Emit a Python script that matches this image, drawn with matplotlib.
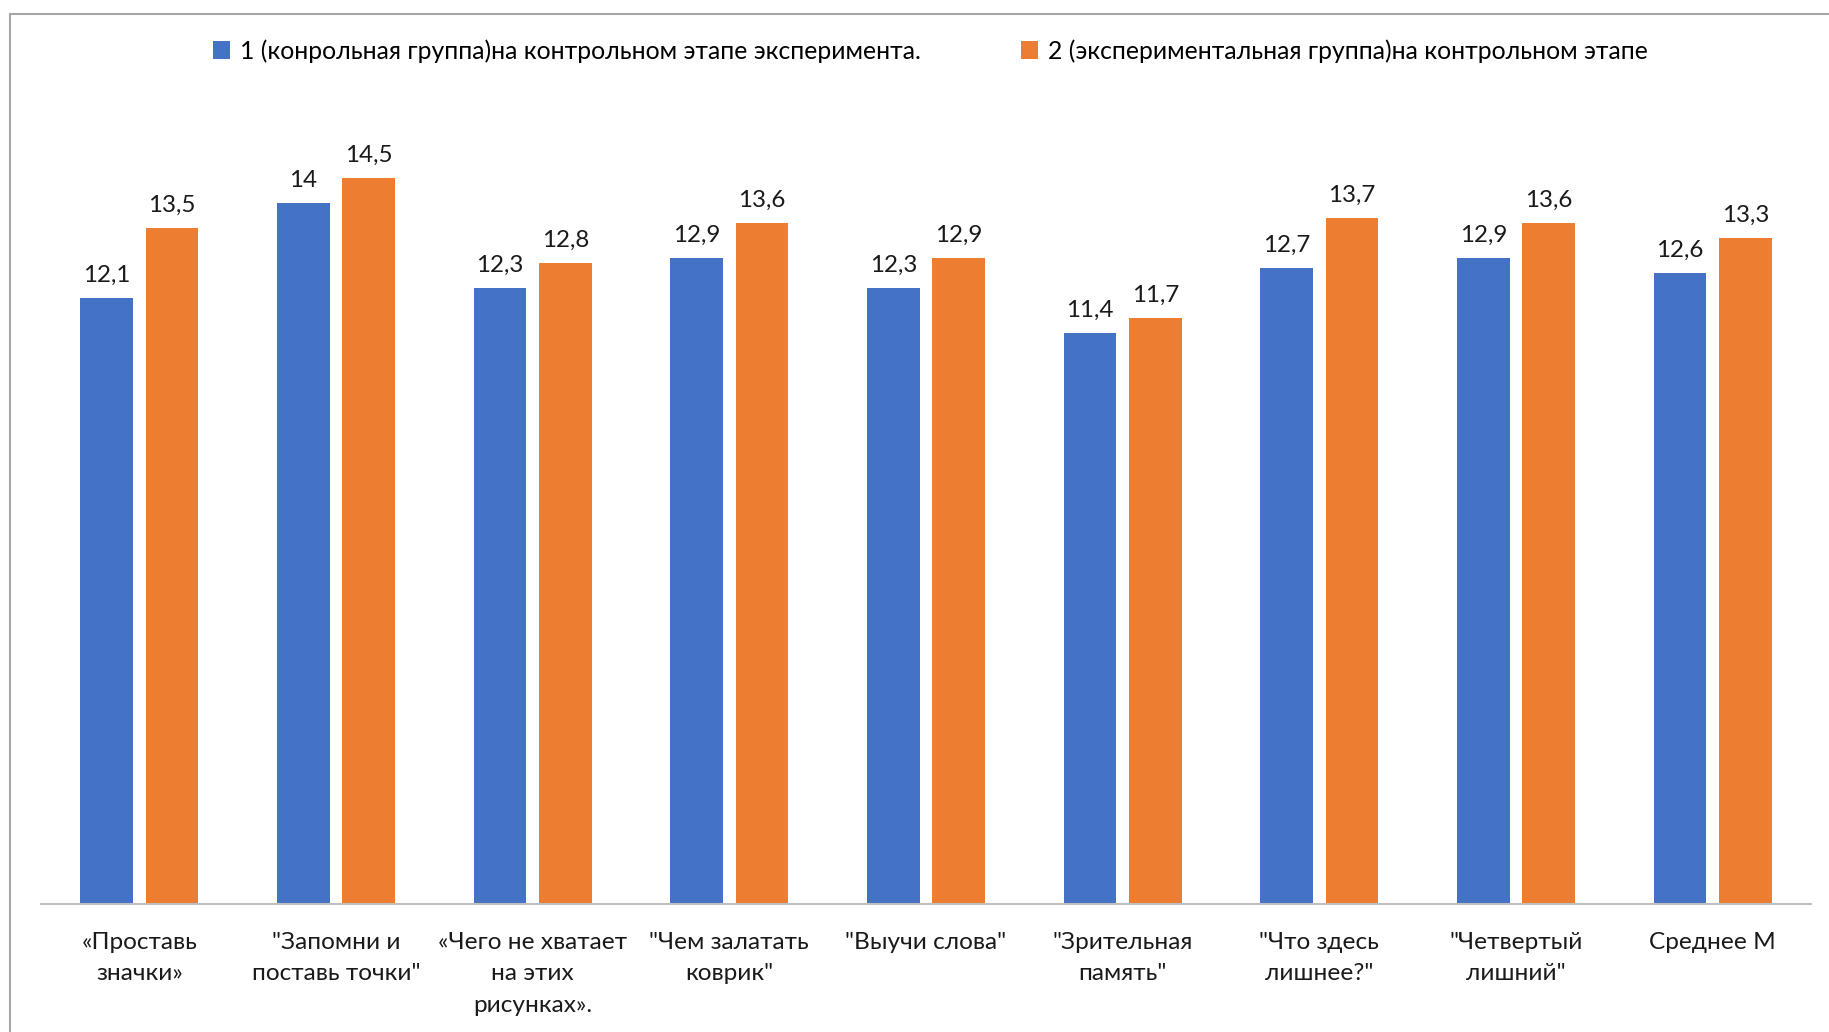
import matplotlib.pyplot as plt
import numpy as np
from matplotlib.patches import Rectangle

plt.rcParams["font.family"] = ["Lato", "DejaVu Sans"]

categories = [
    "«Проставь\nзначки»",
    "\"Запомни и\nпоставь точки\"",
    "«Чего не хватает\nна этих\nрисунках».",
    "\"Чем залатать\nковрик\"",
    "\"Выучи слова\"",
    "\"Зрительная\nпамять\"",
    "\"Что здесь\nлишнее?\"",
    "\"Четвертый\nлишний\"",
    "Среднее М",
]
control_group = [12.1, 14, 12.3, 12.9, 12.3, 11.4, 12.7, 12.9, 12.6]
experimental_group = [13.5, 14.5, 12.8, 13.6, 12.9, 11.7, 13.7, 13.6, 13.3]
series_names = [
    "1 (конрольная группа)на контрольном этапе эксперимента.",
    "2 (экспериментальная группа)на контрольном этапе",
]

BLUE = "#4472C4"
ORANGE = "#ED7D31"


def fmt(v):
    return f"{v:g}".replace(".", ",")


fig = plt.figure(figsize=(18.29, 10.32), dpi=100)
fig.patch.set_facecolor("white")

# outer chart frame
fig.patches.append(Rectangle((10 / 1829, -0.05), 1.1, 1 - 14 / 1032 + 0.05,
                             transform=fig.transFigure, fill=False,
                             edgecolor="#A6A6A6", linewidth=1.5))

ax = fig.add_axes([41 / 1829, 1 - 904 / 1032, (1811 - 41) / 1829, (904 - 103) / 1032])

x = np.arange(len(categories))
w = 0.267
off = w / 2 + 0.033

b1 = ax.bar(x - off, control_group, w, color=BLUE, label=series_names[0])
b2 = ax.bar(x + off, experimental_group, w, color=ORANGE, label=series_names[1])

for bars, vals in [(b1, control_group), (b2, experimental_group)]:
    for rect, v in zip(bars, vals):
        ax.annotate(fmt(v), (rect.get_x() + rect.get_width() / 2, v),
                    xytext=(0, 9), textcoords="offset points",
                    ha="center", va="bottom", fontsize=17.4, color="#1a1a1a")

ax.set_xlim(-0.5, len(categories) - 0.5)
ax.set_ylim(0, 16)
ax.set_yticks([])
ax.set_xticks(x)
ax.set_xticklabels(categories, fontsize=17.6, color="#1a1a1a", linespacing=1.62)
ax.tick_params(axis="x", length=0, pad=20)
for s in ["top", "right", "left"]:
    ax.spines[s].set_visible(False)
ax.spines["bottom"].set_color("#BFBFBF")
ax.spines["bottom"].set_linewidth(1.5)

leg = fig.legend(handles=[b1, b2], labels=series_names, loc="center",
                 bbox_to_anchor=(0.5086, 1 - 51 / 1032), ncol=2, frameon=False,
                 fontsize=17.8, handlelength=0.7, handleheight=0.7,
                 handletextpad=0.4, columnspacing=4.05)

fig.savefig("out.png", dpi=100, facecolor="white")
